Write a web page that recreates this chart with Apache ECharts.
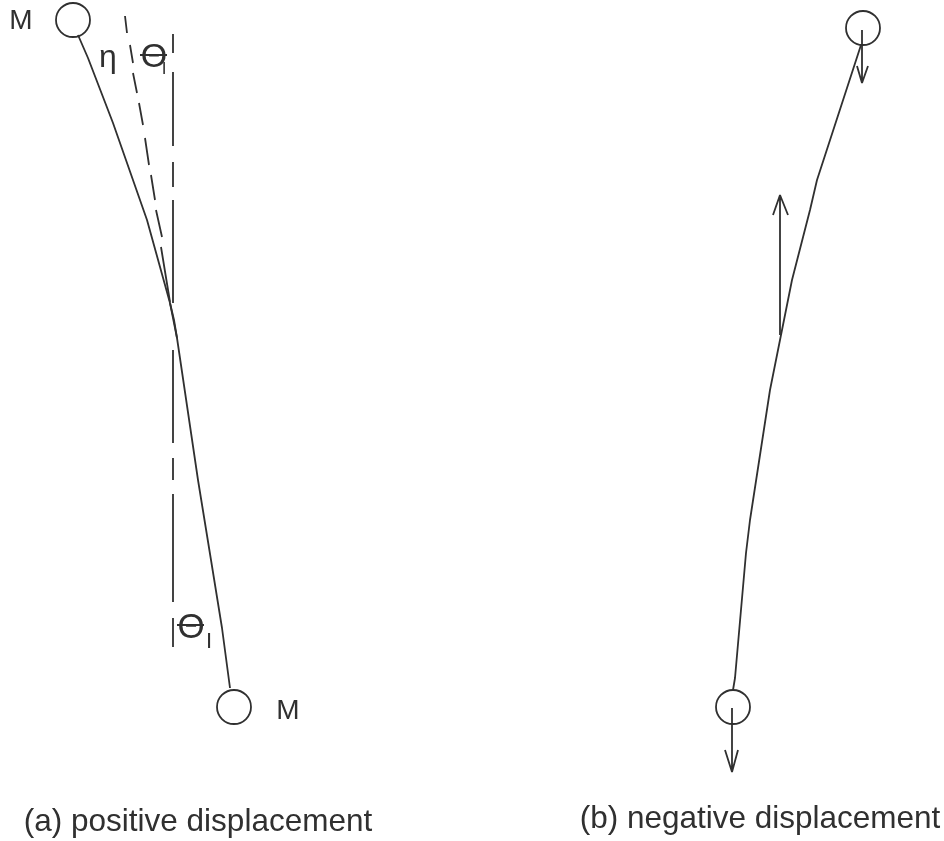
<!DOCTYPE html>
<html>
<head>
<meta charset="utf-8">
<style>html,body{margin:0;padding:0;background:#fff}#c{width:944px;height:841px}</style>
<script src="https://cdn.jsdelivr.net/npm/echarts@6/dist/echarts.min.js"></script>
</head>
<body>
<div id="c"></div>
<script>
var GAP = ['-', '-'];
var leftRod = [[78,35],[88,58],[113,123],[147,220],[170,303],[177,338],[198,480],[211,560],[222,628],[230,688]];
var leftRodBack = [[170,303],[174,320],[177,338]];
var etaDashed = [[125,16],[127,33],GAP,[130,45],[133,63],GAP,[133,73],[137,93],GAP,[139,103],[143,125],GAP,[145,138],[149,165],GAP,[151,175],[155,200],GAP,[156,210],[162,237],GAP,[161,247],[170,302]];
var vertical = [[173,34],[173,53],GAP,[173,72],[173,146],GAP,[173,162],[173,187],GAP,[173,200],[173,303],GAP,[173,350],[173,443],GAP,[173,458],[173,480],GAP,[173,494],[173,602],GAP,[173,618],[173,647]];
var rightRod = [[861,45],[817,180],[810,210],[792,280],[781,335],[770,390],[750,520],[746,553],[735,678],[733,690]];
var arrowUp = [[780,335],[780,197],GAP,[773,215],[780,195],[788,215]];
var arrowTop = [[862,30],[862,82],GAP,[857,66],[862,83],[868,66]];
var arrowBottom = [[732,708],[732,771],GAP,[725,750],[732,772],[738,750]];
var thetaBars = [[140,55],[167,55],GAP,[177,625],[204,625]];
var masses = [[73,20],[234,707],[863,28],[733,707]];
var texts = [
  ['M',21,21,28],['M',288,711,28],['η',108,58,32],
  ['Θ',154,58,34],['I',164,69,17],['Θ',191,628,35],['I',209,642,22],
  ['(a) positive displacement',198,822,31.5],['(b) negative displacement',760,819,31.5]
];
var polylines = [leftRod, leftRodBack, etaDashed, vertical, rightRod, arrowUp, arrowTop, arrowBottom, thetaBars];
var INK = '#303030';

var series = polylines.map(function (d) {
  return {
    type: 'line', data: d, showSymbol: false, silent: true, animation: false,
    connectNulls: false, lineStyle: { color: INK, width: 1.8 }
  };
});
series.push({
  type: 'scatter', data: masses, symbol: 'circle', symbolSize: 34, silent: true, animation: false,
  itemStyle: { color: 'transparent', borderColor: INK, borderWidth: 1.8, opacity: 1 }
});
texts.forEach(function (t) {
  series.push({
    type: 'scatter', data: [[t[1], t[2]]], symbolSize: 1, silent: true, animation: false,
    itemStyle: { color: 'transparent', opacity: 1 },
    label: {
      show: true, position: 'inside', align: 'center', verticalAlign: 'middle',
      formatter: t[0], color: INK, fontFamily: 'Liberation Sans', fontSize: t[3]
    }
  });
});

var chart = echarts.init(document.getElementById('c'), null, { renderer: 'canvas' });
chart.setOption({
  backgroundColor: '#fff',
  animation: false,
  grid: { left: 0, right: 0, top: 0, bottom: 0 },
  xAxis: { type: 'value', min: 0, max: 944, show: false },
  yAxis: { type: 'value', min: 0, max: 841, inverse: true, show: false },
  series: series
});
</script>
</body>
</html>
